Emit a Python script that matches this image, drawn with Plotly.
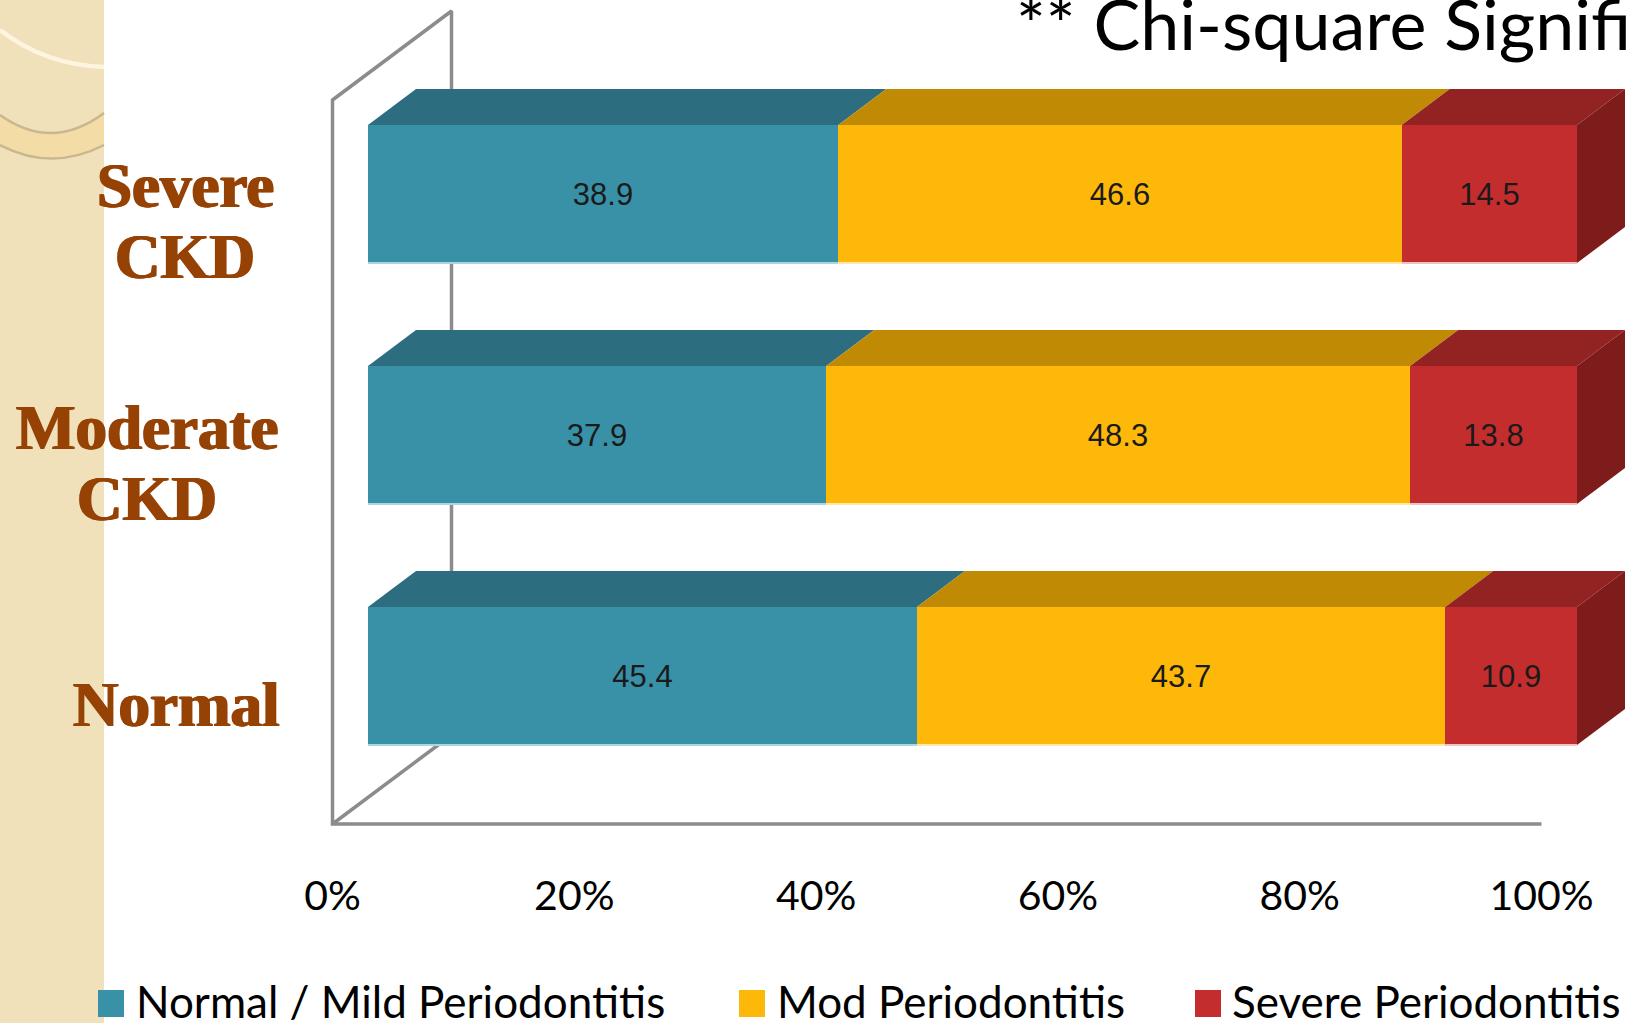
import plotly.graph_objects as go

W, H = 1627, 1023

categories = ["Normal", "Moderate CKD", "Severe CKD"]
series_names = ["Normal / Mild Periodontitis", "Mod Periodontitis", "Severe Periodontitis"]
normal_mild = [45.4, 37.9, 38.9]
moderate = [43.7, 48.3, 46.6]
severe = [10.9, 13.8, 14.5]
tick_values = [0, 20, 40, 60, 80, 100]
tick_labels = ["0%", "20%", "40%", "60%", "80%", "100%"]
title_text = "** Chi-square Significant"

series = [normal_mild, moderate, severe]
front = ["#3891A7", "#FEB80A", "#C32D2E"]
top = ["#2C6E80", "#C08A04", "#932222"]
edge = ["#A9D6E0", "#FFE9A8", "#EDC4C4"]
side = "#7E1C1C"

PX_X = 12.09     # px per percent
PX_Y = 241.0     # px per category
Y0_PX = 676.0    # pixel row of first category
AXIS_PX = 332.5
BAR_PX = 368.0
BAR_W = 0.573
DX, DY = 48 / PX_X, 36 / PX_Y
WALL_DX, WALL_DY = 119 / PX_X, 89 / PX_Y
WALL_BOTTOM, WALL_TOP = (Y0_PX - 824) / PX_Y, (Y0_PX - 100) / PX_Y
y_range = [(Y0_PX - H) / PX_Y, Y0_PX / PX_Y]
GREY = "#8C8C8C"

fig = go.Figure()

# wall and axis line, on the axis plane
wall_x = [100, 0, 0, WALL_DX, WALL_DX, 0]
wall_y = [WALL_BOTTOM, WALL_BOTTOM, WALL_TOP, WALL_TOP + WALL_DY, WALL_BOTTOM + WALL_DY, WALL_BOTTOM]
fig.add_trace(go.Scatter(x=wall_x, y=wall_y, mode="lines", line=dict(color=GREY, width=3.5),
                         hoverinfo="skip", showlegend=False, xaxis="x", yaxis="y"))

idx = list(range(len(categories)))
# front faces, stacked
for s, vals in enumerate(series):
    bases = [sum(series[k][i] for k in range(s)) for i in idx]
    fig.add_trace(go.Bar(
        y=idx, x=vals, base=bases, orientation="h", width=BAR_W,
        name=series_names[s], marker=dict(color=front[s], line=dict(width=0)),
        text=[f"{v:.1f}" for v in vals], textposition="inside", insidetextanchor="middle",
        textangle=0, constraintext="none",
        textfont=dict(family="Liberation Sans", size=31, color="#1A1A1A"),
        cliponaxis=False, xaxis="x2", yaxis="y", showlegend=False))

# top faces, side faces and lower edges derived from the values
for i in idx:
    start = 0.0
    hi = i + BAR_W / 2
    lo = i - BAR_W / 2
    for s, vals in enumerate(series):
        end = start + vals[i]
        fig.add_trace(go.Scatter(
            x=[start, end, end + DX, start + DX, start], y=[hi, hi, hi + DY, hi + DY, hi],
            mode="lines", fill="toself", fillcolor=top[s], line=dict(width=0),
            hoverinfo="skip", showlegend=False, xaxis="x2", yaxis="y"))
        fig.add_trace(go.Scatter(
            x=[start, end], y=[lo, lo], mode="lines", line=dict(color=edge[s], width=2),
            hoverinfo="skip", showlegend=False, xaxis="x2", yaxis="y"))
        start = end
    fig.add_trace(go.Scatter(
        x=[start, start + DX, start + DX, start, start], y=[lo, lo + DY, hi + DY, hi, lo],
        mode="lines", fill="toself", fillcolor=side, line=dict(width=0),
        hoverinfo="skip", showlegend=False, xaxis="x2", yaxis="y"))

shapes = [
    dict(type="rect", xref="paper", yref="paper", x0=0, x1=104 / W, y0=0, y1=1,
         fillcolor="#F1E1BA", line=dict(width=0), layer="below"),
]
def P(x, y):
    return f"{x / W:.5f},{1 - y / H:.5f}"
for path, fc, lc, lw in [
    (f"M{P(0,115)} Q{P(52,152)} {P(104,113)} L{P(104,145)} Q{P(52,172)} {P(0,145)} Z", "#F3DCA6", "rgba(0,0,0,0)", 0),
    (f"M{P(0,115)} Q{P(52,152)} {P(104,113)}", "rgba(0,0,0,0)", "#C9B78E", 2.5),
    (f"M{P(0,145)} Q{P(52,172)} {P(104,145)}", "rgba(0,0,0,0)", "#C9B78E", 2.5),
    (f"M{P(0,30)} Q{P(45,65)} {P(104,67)}", "rgba(0,0,0,0)", "#FDF5DF", 4.5),
]:
    shapes.append(dict(type="path", xref="paper", yref="paper", path=path, fillcolor=fc,
                       line=dict(color=lc, width=lw), layer="below"))

LEGEND_FONT = dict(family="Lato", size=44, color="#000000")
legend_swatch_px = [98, 739, 1195]
legend_text_px = [134, 775, 1230]
annotations = []
for s, name in enumerate(series_names):
    shapes.append(dict(type="rect", xref="paper", yref="paper",
                       x0=legend_swatch_px[s] / W, x1=(legend_swatch_px[s] + 26) / W,
                       y0=1 - 1017 / H, y1=1 - 990 / H, fillcolor=front[s], line=dict(width=0)))
    annotations.append(dict(text=name, xref="paper", yref="paper", x=legend_text_px[s] / W,
                            y=1 - 1001 / H, xanchor="left", yanchor="middle", showarrow=False,
                            font=LEGEND_FONT))

# category labels
label_center_px = [176, 147, 185]
label_rows_px = [[705], [428, 499], [186, 257]]
LABEL_COLOR = "#964205"
for i, cat in enumerate(categories):
    for line, py in zip(cat.split(" "), label_rows_px[i]):
        annotations.append(dict(text=line, xref="paper", yref="paper", x=label_center_px[i] / W,
                                y=1 - py / H, xanchor="center", yanchor="middle", showarrow=False,
                                font=dict(family="Liberation Serif", size=63, color=LABEL_COLOR,
                                          weight=700,
                                          shadow=f"1px 0 0 {LABEL_COLOR}, -1px 0 0 {LABEL_COLOR}")))

annotations.append(dict(text=title_text, xref="paper", yref="paper", x=1014 / W, y=1 - 23 / H,
                        xanchor="left", yanchor="middle", showarrow=False,
                        font=dict(family="Lato", size=70, color="#000000")))

fig.update_layout(
    width=W, height=H, margin=dict(l=0, r=0, t=0, b=0),
    paper_bgcolor="white", plot_bgcolor="rgba(0,0,0,0)",
    barmode="overlay", bargap=0, showlegend=False,
    shapes=shapes, annotations=annotations,
    xaxis=dict(domain=[0, 1], range=[-AXIS_PX / PX_X, (W - AXIS_PX) / PX_X],
               tickvals=tick_values, ticktext=tick_labels, showgrid=False, zeroline=False,
               showline=False, ticks="", anchor="free", position=1 - 868 / H,
               tickfont=dict(family="Lato", size=41, color="#000000")),
    xaxis2=dict(domain=[0, 1], range=[-BAR_PX / PX_X, (W - BAR_PX) / PX_X], overlaying="x",
                visible=False, showgrid=False, zeroline=False),
    yaxis=dict(domain=[0, 1], range=y_range, visible=False, showgrid=False, zeroline=False),
)

fig.write_html("out.html", post_script="document.body.style.margin='0';", config=dict(displayModeBar=False))
